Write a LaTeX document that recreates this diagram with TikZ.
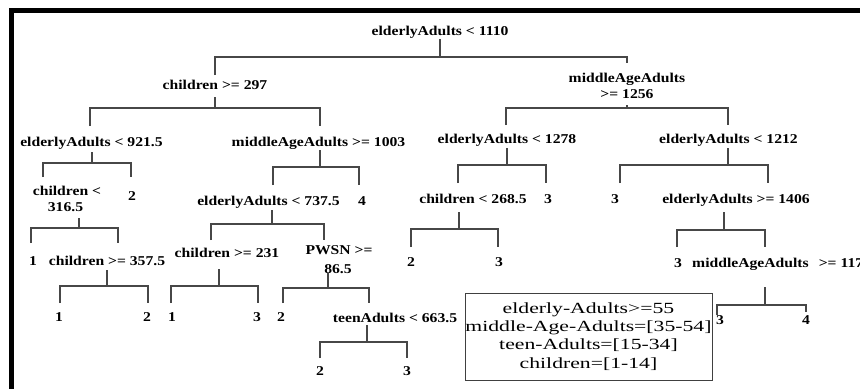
\documentclass[tikz,border=0pt]{standalone}
\usepackage{fontspec}
\newfontfamily\treefont[FakeStretch=1.16]{Liberation Serif}
\newfontfamily\legfont[FakeStretch=1.4]{Liberation Serif}
\tikzset{
  lbl/.style={font=\treefont\bfseries\fontsize{13.5}{16}\selectfont, inner sep=0pt, anchor=base},
  lbll/.style={lbl, anchor=base west},
  conn/.style={draw=black!72, line width=1.4pt},
  legtext/.style={font=\legfont\fontsize{15.5}{18}\selectfont, inner sep=0pt, anchor=base},
  legbox/.style={draw=black!75, line width=0.9pt},
  frame/.style={fill=black}
}
% bracket: stem x, stem top, bar y, left x, right x, left end y, right end y
\newcommand\brk[7]{%
  \draw[conn] (#1,#2) -- (#1,#3);
  \draw[conn] (#4,#6) -- (#4,#3) -- (#5,#3) -- (#5,#7);
}
\begin{document}
\begin{tikzpicture}[x=1pt,y=-1pt]
\useasboundingbox (0,0) rectangle (860,389);
\fill[white] (0,0) rectangle (860,389);
% frame
\fill[frame] (9,8) rectangle (860,13);
\fill[frame] (9,8) rectangle (14,389);

% labels
\node[lbl] (n0) at (440,35) {elderlyAdults < 1110};
\node[lbl] (n1) at (215,89) {children >= 297};
\node[lbl] (n2a) at (627,82) {middleAgeAdults};
\node[lbl] (n2b) at (627,98) {>= 1256};
\node[lbl] (n3) at (91.5,146) {elderlyAdults < 921.5};
\node[lbl] (n4) at (318.5,146) {middleAgeAdults >= 1003};
\node[lbl] (n5) at (507,143) {elderlyAdults < 1278};
\node[lbl] (n6) at (728.5,143) {elderlyAdults < 1212};
\node[lbl] (n7a) at (67,195) {children <};
\node[lbl] (n7b) at (65.5,211) {316.5};
\node[lbl] (l1) at (132,200) {2};
\node[lbl] (n8) at (268.5,205) {elderlyAdults < 737.5};
\node[lbl] (l2) at (362,205) {4};
\node[lbl] (n9) at (473,203) {children < 268.5};
\node[lbl] (l3) at (548,203) {3};
\node[lbl] (l4) at (615,203) {3};
\node[lbl] (n10) at (736,203) {elderlyAdults >= 1406};
\node[lbl] (l5) at (33,265) {1};
\node[lbl] (n11) at (107,265) {children >= 357.5};
\node[lbl] (n12) at (227,257) {children >= 231};
\node[lbl] (n13a) at (339,254) {PWSN >=};
\node[lbl] (n13b) at (338,273) {86.5};
\node[lbl] (l6) at (411,266) {2};
\node[lbl] (l7) at (499,266) {3};
\node[lbl] (l8) at (678,267) {3};
\node[lbll] (n14) at (692,267) {middleAgeAdults\hspace{10pt}>= 117};
\node[lbl] (l9) at (59,321) {1};
\node[lbl] (l10) at (147,321) {2};
\node[lbl] (l11) at (172,321) {1};
\node[lbl] (l12) at (257,321) {3};
\node[lbl] (l13) at (281,321) {2};
\node[lbl] (n15) at (395,322) {teenAdults < 663.5};
\node[lbl] (l14) at (720,324) {3};
\node[lbl] (l15) at (806,324) {4};
\node[lbl] (l16) at (320,375) {2};
\node[lbl] (l17) at (407,375) {3};

% connectors
\brk{440}{39}{57}{215}{627}{75}{63}
\brk{215}{97}{108}{90}{320}{126}{126}
\brk{627}{105}{108}{506}{728}{125}{125}
\brk{92}{152}{163}{43}{131}{177}{177}
\brk{320}{150}{167}{273}{359}{185}{185}
\brk{507}{148}{165}{458}{546}{183}{183}
\brk{728}{148}{165}{620}{768}{183}{183}
\brk{79}{218}{228}{31}{118}{243}{243}
\brk{272}{210}{224}{211}{324}{240}{240}
\brk{459}{212}{229}{411}{498}{247}{247}
\brk{724}{212}{230}{677}{765}{247}{247}
\brk{107}{270}{286}{60}{148}{303}{303}
\brk{219}{269}{286}{171}{258}{303}{303}
\brk{328}{273}{288}{283}{369}{303}{303}
\brk{765}{287}{305}{717}{806}{315}{312}
\brk{367}{325}{342}{320}{407}{358}{358}

% legend
\draw[legbox] (465,293) rectangle (712,380);
\node[legtext] (g1) at (588.5,313) {elderly-Adults>=55};
\node[legtext] (g2) at (588.5,331) {middle-Age-Adults=[35-54]};
\node[legtext] (g3) at (588.5,349) {teen-Adults=[15-34]};
\node[legtext] (g4) at (588.5,368) {children=[1-14]};
\end{tikzpicture}
\end{document}
